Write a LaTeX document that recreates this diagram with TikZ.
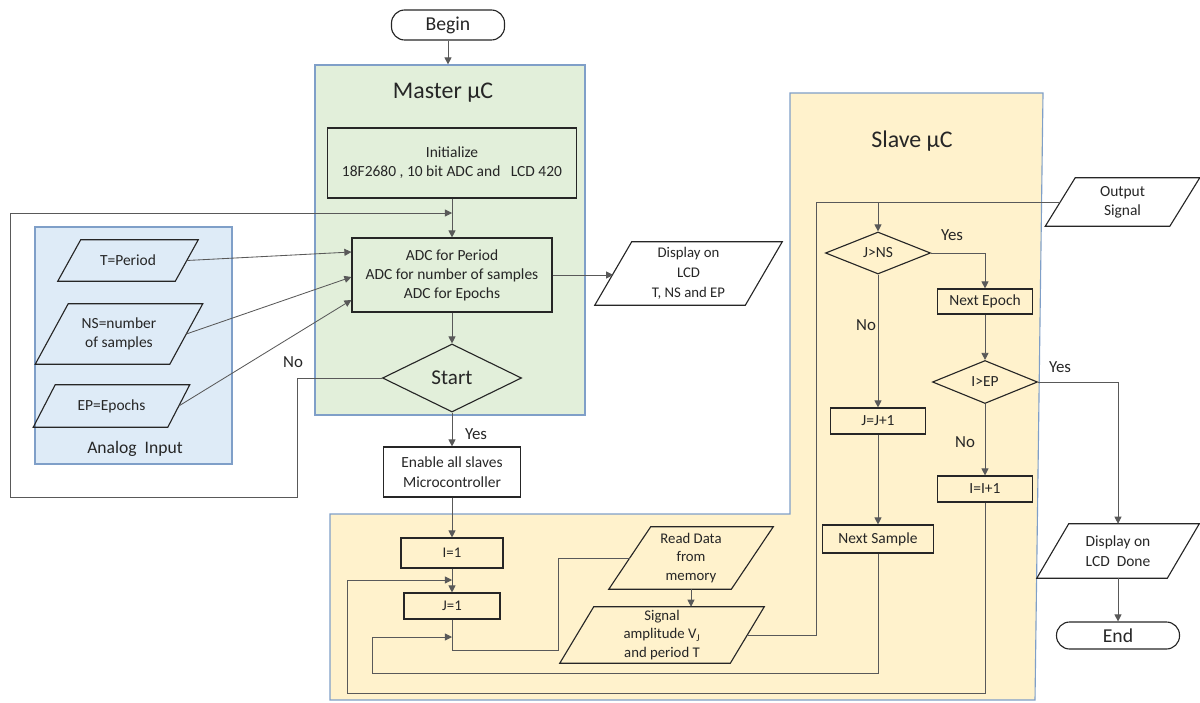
\documentclass[tikz,border=0pt]{standalone}
\usepackage{fontspec}
\setmainfont{Carlito}
\usetikzlibrary{shapes.geometric,arrows.meta,calc}
\definecolor{greenfill}{HTML}{E2EFDA}
\definecolor{bluefill}{HTML}{DEEBF7}
\definecolor{yellowfill}{HTML}{FFF2CC}
\definecolor{regionborder}{HTML}{7F9FC8}
\definecolor{ink}{HTML}{262626}
\newcommand\para[8][]{%
  \node[paratext,#1,minimum width={2*#5*0.025cm},minimum height={2*#6*0.025cm}] (#2) at (#3,#4) {#8};
  \draw[parashape] ($(#2.south west)+(-#7,0)$) -- ($(#2.north west)+(#7,0)$) -- ($(#2.north east)+(#7,0)$) -- ($(#2.south east)+(-#7,0)$) -- cycle;
}
\begin{document}
\begin{tikzpicture}[x=0.025cm,y=-0.025cm,
  every node/.style={text=ink,font=\fontsize{11}{13.5}\selectfont,align=center},
  box/.style={draw=ink,line width=0.8pt,rectangle,inner sep=0pt},
  dia/.style={draw=ink,line width=0.8pt,diamond,inner sep=0pt},
  term/.style={draw=ink,line width=0.8pt,rectangle,rounded corners=0.33cm,inner sep=0pt,font=\fontsize{14}{16}\selectfont},
  region/.style={draw=regionborder,line width=0.8pt},
  conn/.style={draw=black!65,line width=0.6pt},
  arr/.style={conn,-{Triangle[length=5pt,width=5pt]}},
  lbl/.style={font=\fontsize{12}{14}\selectfont},
  ttl/.style={font=\fontsize{17}{20}\selectfont},
  paratext/.style={inner sep=0pt},
  parashape/.style={draw=ink,line width=0.8pt},
]
\useasboundingbox (0,0) rectangle (1200,702);

% regions
\node[region,fill=greenfill,rectangle,inner sep=0pt,minimum width=6.75cm,minimum height=8.75cm] (master) at (450,240) {};
\draw[region,fill=bluefill] (35,227) rectangle (232,464);
\draw[region,fill=yellowfill] (790,93) -- (1043,93) -- (1035,700) -- (330,700) -- (330,514) -- (790,514) -- cycle;

\node[ttl] (mtitle) at (443,93) {Master µC};
\node[ttl] (stitle) at (912,141) {Slave µC};
\node[font=\fontsize{12.5}{15}\selectfont] (atitle) at (135,449) {Analog\ \ Input};

% master nodes
\node[term,minimum width=2.825cm,minimum height=0.75cm] (begin) at (448,25) {Begin};
\node[box,minimum width=6.225cm,minimum height=1.75cm] (init) at (452,163) {Initialize\\18F2680 , 10 bit ADC and\ \ \ LCD 420};
\node[box,minimum width=5.0cm,minimum height=1.85cm] (adc) at (452,275) {ADC for Period\\ADC for number of samples\\ADC for Epochs};
\node[dia,minimum width=3.475cm,minimum height=1.7cm,font=\fontsize{15}{17}\selectfont] (start) at (452,378) {Start};
\node[box,minimum width=3.425cm,minimum height=1.25cm,font=\fontsize{11}{14}\selectfont] (enable) at (452,472) {Enable all slaves\\Microcontroller};

% analog inputs
\para[font=\fontsize{11}{13}\selectfont]{tp}{128}{260.5}{58.5}{20.5}{11.5}{T=Period}
\para[font=\fontsize{11}{14}\selectfont]{nsp}{119}{334}{67}{30}{16.5}{NS=number\\of samples}
\para[font=\fontsize{11}{13}\selectfont]{ep}{111.5}{406}{67}{21}{11}{EP=Epochs}

\para[font=\fontsize{10.5}{14}\selectfont]{disp}{688.5}{273.5}{75}{31.5}{18.5}{Display on\\LCD\\T, NS and EP}

% lower region
\node[box,minimum width=2.55cm,minimum height=0.75cm,font=\fontsize{10.5}{12}\selectfont] (ione) at (452,553) {I=1};
\node[box,minimum width=2.4cm,minimum height=0.65cm,font=\fontsize{10.5}{12}\selectfont] (jone) at (452,606) {J=1};
\para[font=\fontsize{10.5}{13}\selectfont]{rd}{691}{558}{61}{31}{21}{Read Data\\from\\memory}
\para[font=\fontsize{10.5}{13}\selectfont]{sig}{662}{635}{85}{28}{17}{Signal\\amplitude V\textsubscript{J}\\and period T}

% slave nodes
\para[font=\fontsize{11}{13.5}\selectfont]{os}{1122.5}{202}{62}{24}{15}{Output\\Signal}
\node[dia,minimum width=2.625cm,minimum height=1.05cm,font=\fontsize{11}{12}\selectfont] (jns) at (878,253) {J>NS};
\node[box,minimum width=2.375cm,minimum height=0.625cm] (nep) at (985,301.5) {Next Epoch};
\node[dia,minimum width=2.625cm,minimum height=1.075cm,font=\fontsize{11}{12}\selectfont] (iep) at (985,382) {I>EP};
\node[box,minimum width=2.375cm,minimum height=0.65cm,font=\fontsize{11}{12}\selectfont] (jinc) at (878,421) {J=J+1};
\node[box,minimum width=2.375cm,minimum height=0.65cm,font=\fontsize{11}{12}\selectfont] (iinc) at (985,489) {I=I+1};
\node[box,minimum width=2.775cm,minimum height=0.7cm] (nsm) at (878,539) {Next Sample};
\para[font=\fontsize{11}{14}\selectfont]{done}{1118}{551}{65}{27}{16}{Display on\\LCD\ \ Done}
\node[term,minimum width=3.075cm,minimum height=0.675cm] (end) at (1118,635.5) {End};

% labels
\node[lbl] (lno1) at (293,362) {No};
\node[lbl] (lyes1) at (476,434) {Yes};
\node[lbl] (lyes2) at (952,235) {Yes};
\node[lbl] (lno2) at (866,325) {No};
\node[lbl] (lyes3) at (1060,367) {Yes};
\node[lbl] (lno3) at (965,442) {No};

% connectors
\draw[arr] (begin.south) -- (begin.south |- master.north);
\draw[arr] (init.south) -- (adc.north);
\draw[arr] (adc.south) -- (start.north);
\draw[arr] (start.south) -- (enable.north);
\draw[arr] (start.west) -- (297,378) |- (10,497) |- (452,213);
\draw[arr] (tp.east) -- (adc.west |- 0,252);
\draw[arr] (nsp.east) -- (adc.west |- 0,277);
\draw[arr] (ep.east) -- (adc.west |- 0,300);
\draw[arr] (adc.east) -- (adc.east -| disp.west);
\draw[arr] (enable.south) -- (ione.north);
\draw[arr] (ione.south) -- (jone.north);
\draw[arr] (iinc.south) |- (347,693) |- (452,580);
\draw[arr] (nsm.south) |- (372,673) |- (452,637);
\draw[conn] (jone.south) |- (558,650) |- (rd.west);
\draw[arr] (rd.south) -- (rd.south |- sig.north);
\draw[conn] (sig.east) -- (816,635) |- (os.west);
\draw[arr] (jns.north |- os.west) -- (jns.north);
\draw[arr] (jns.east) -| (nep.north);
\draw[arr] (jns.south) -- (jinc.north);
\draw[arr] (jinc.south) -- (nsm.north);
\draw[arr] (nep.south) -- (iep.north);
\draw[arr] (iep.east) -| (done.north);
\draw[arr] (iep.south) -- (iinc.north);
\draw[arr] (done.south) -- (end.north);
\end{tikzpicture}
\end{document}
